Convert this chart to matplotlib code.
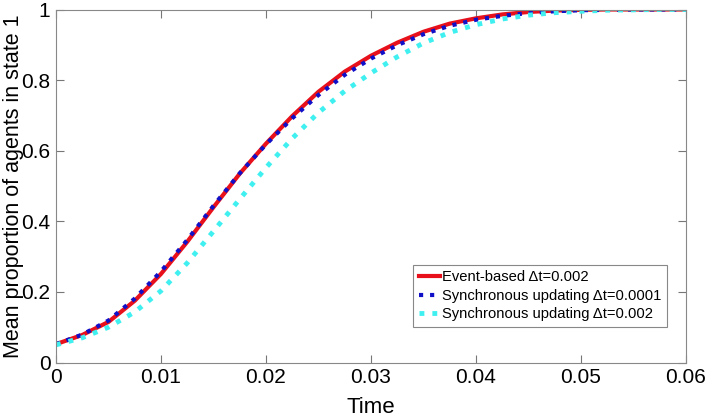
import numpy as np
import matplotlib
matplotlib.use("Agg")
import matplotlib.pyplot as plt

plt.rcParams['font.family'] = ['Liberation Sans', 'DejaVu Sans']

# values, every 0.0025 in time
t = [0, 0.0025, 0.005, 0.0075, 0.01, 0.0125, 0.015, 0.0175, 0.02, 0.0225,
     0.025, 0.0275, 0.03, 0.0325, 0.035, 0.0375, 0.04, 0.0425, 0.045,
     0.0475, 0.05, 0.0525, 0.055, 0.0575, 0.06]
event_based = [0.052, 0.078, 0.115, 0.175, 0.251, 0.342, 0.440, 0.535, 0.620,
               0.698, 0.767, 0.824, 0.869, 0.906, 0.937, 0.960, 0.975, 0.986,
               0.993, 0.997, 0.999, 1.0, 1.0, 1.0, 1.0]
sync_fine = [0.052, 0.079, 0.119, 0.181, 0.258, 0.347, 0.444, 0.536, 0.618,
             0.692, 0.758, 0.815, 0.861, 0.899, 0.930, 0.954, 0.971, 0.982,
             0.990, 0.995, 0.998, 0.999, 1.0, 1.0, 1.0]
sync_coarse = [0.050, 0.070, 0.100, 0.143, 0.203, 0.282, 0.372, 0.463, 0.552,
               0.635, 0.708, 0.769, 0.820, 0.866, 0.905, 0.935, 0.957, 0.973,
               0.984, 0.991, 0.995, 0.998, 0.999, 1.0, 1.0]
labels = ["Event-based \u0394t=0.002",
          "Synchronous updating \u0394t=0.0001",
          "Synchronous updating \u0394t=0.002"]

fig = plt.figure(figsize=(7.06, 4.18), dpi=100)
ax = fig.add_axes([56/706, 1 - 362.5/418, (686-56)/706, (362.5-9.5)/418])

ax.plot(t, event_based, color='#e8101a', lw=3, label=labels[0])
ax.plot(t, sync_fine, color='#1010c8', lw=3, ls=':', label=labels[1])
ax.plot(t, sync_coarse, color='#40f0f0', lw=3.5, ls=':', label=labels[2])

ax.set_xlim(0, 0.06)
ax.set_ylim(0, 1)
ax.set_xticks(np.arange(0, 0.061, 0.01))
ax.set_xticklabels(["0", "0.01", "0.02", "0.03", "0.04", "0.05", "0.06"])
ax.set_yticks([0, 0.2, 0.4, 0.6, 0.8, 1])
ax.set_yticklabels(["0", "0.2", "0.4", "0.6", "0.8", "1"])
ax.tick_params(direction='in', top=True, right=True, length=6,
               color='#777777', labelsize=15, pad=4)
for s in ax.spines.values():
    s.set_color('#888888')
ax.set_xlabel("Time", fontsize=16, labelpad=7)
ax.set_ylabel("Mean proportion of agents in state 1", fontsize=15.5)
ax.yaxis.set_label_coords(-0.051, 0.5)

leg = ax.legend(loc='lower right', bbox_to_anchor=(0.97, 0.1), fontsize=10.6,
                fancybox=False, framealpha=1, edgecolor='#888888',
                handlelength=1.4, handletextpad=0.15, borderpad=0.4,
                labelspacing=0.3, borderaxespad=0)
leg.get_frame().set_linewidth(0.8)

fig.savefig("out.png", dpi=100)
